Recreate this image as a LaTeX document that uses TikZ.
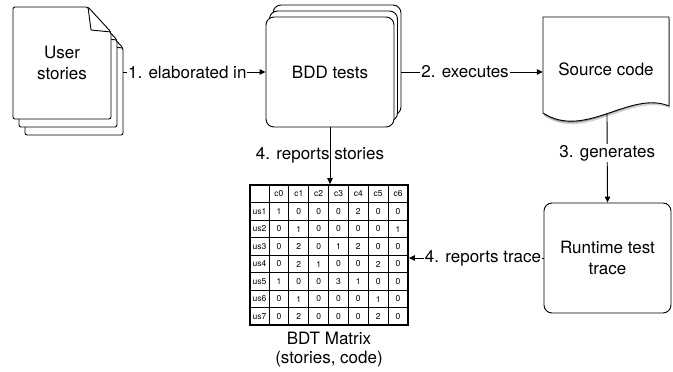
\documentclass[tikz,border=0pt]{standalone}
\usepackage{fontspec}
\setmainfont{TeX Gyre Heros}
\usetikzlibrary{arrows.meta}

\begin{document}
\begin{tikzpicture}[x=1pt,y=-1pt,
  lw/.style={line width=0.9pt},
  boxstyle/.style={draw, lw, fill=white, rounded corners=8pt,
    minimum width=128pt, minimum height=110pt, inner sep=0pt,
    align=center, font=\fontsize{17}{21}\selectfont},
  ghost/.style={inner sep=0pt, align=center, font=\fontsize{17}{21}\selectfont},
  conn/.style={lw, -{Triangle[length=6pt,width=5.5pt]}},
  lbl/.style={fill=white, inner sep=1pt, font=\fontsize{17}{20}\selectfont},
  cell/.style={inner sep=0pt, font=\fontsize{8.5}{10}\selectfont},
  pageshape/.style={draw, lw, fill=white, line join=round}
]
\useasboundingbox (0,0) rectangle (673,372);

% --- stacked user story pages with folded corner ---
\foreach \dx/\dy in {12/16, 6/8, 0/0} {
  \begin{scope}[shift={(\dx,\dy)}]
    \draw[pageshape, rounded corners=2pt] (13,7) -- (88,7) -- (111,32) -- (111,119) -- (13,119) -- cycle;
    \draw[lw, line join=round] (88,7) -- (91,30) -- (111,32);
  \end{scope}
}
\node[ghost, minimum width=98pt, minimum height=112pt] (us) at (62,63) {User\\stories};
\node[inner sep=0pt, minimum width=98pt, minimum height=112pt] (usback) at (74,79) {};

% --- stacked BDD test boxes ---
\node[boxstyle] (bdd3) at (337,60) {};
\node[boxstyle] (bdd2) at (333.5,66) {};
\node[boxstyle] (bdd) at (330,72) {BDD tests};

% --- source code document with wavy bottom and shadow ---
\fill[black!18] (544,20) -- (670,20) -- (670,108) .. controls (630,93) and (585,143) .. (544,116) -- cycle;
\fill[black!45] (543.5,18) -- (669.5,18) -- (669.5,106) .. controls (630,91) and (585,141.5) .. (543.5,114.5) -- cycle;
\draw[lw, fill=white, line join=round] (543,17) -- (669,17) -- (669,106) .. controls (630,90) and (585,140) .. (543,113) -- cycle;
\node[ghost, minimum width=126pt, minimum height=100pt] (src) at (606,69) {Source code};
\coordinate (srcbot) at (607,114);

% --- runtime trace ---
\node[boxstyle, minimum width=127pt] (rt) at (607.5,258) {Runtime test\\trace};

% --- BDT matrix ---
\node[draw, line width=1.8pt, minimum width=158pt, minimum height=140pt, inner sep=0pt] (mat) at (329,255) {};
\foreach \k in {0,...,6}
  \draw[line width=1pt] ({269+\k*19.857},185) -- ({269+\k*19.857},325);
\foreach \k in {1,...,7}
  \draw[line width=1pt] (250,{185+\k*17.5}) -- (408,{185+\k*17.5});
\foreach \c in {0,...,6}
  \node[cell] at ({278.93+\c*19.857},194) {c\c};
\foreach \row [count=\r] in {{1,0,0,0,2,0,0},{0,1,0,0,0,0,1},{0,2,0,1,2,0,0},{0,2,1,0,0,2,0},{1,0,0,3,1,0,0},{0,1,0,0,0,1,0},{0,2,0,0,0,2,0}} {
  \node[cell] at (259.5,{194+\r*17.5}) {us\r};
  \foreach \v [count=\c] in \row
    \node[cell] at ({278.93+(\c-1)*19.857},{194+\r*17.5}) {\v};
}
\node[ghost, anchor=north, font=\fontsize{17}{19}\selectfont] (cap) at ([yshift=-6pt]mat.south) {BDT Matrix\\(stories, code)};

% --- connectors ---
\draw[conn] (usback.east |- bdd) -- node[lbl, pos=0.45] {1. elaborated in} (bdd.west);
\draw[conn] (bdd3.east |- bdd) -- node[lbl, pos=0.45] {2. executes} (src.west |- bdd);
\draw[conn] (srcbot) -- node[lbl, pos=0.44] {3. generates} (rt.north);
\draw[conn] (bdd.south) -- node[lbl, fill=none, xshift=-10pt] {4. reports stories} (bdd.south |- mat.north);
\draw[conn] (rt.west) -- node[lbl, pos=0.45] {4. reports trace} (mat.east |- rt.west);
\end{tikzpicture}
\end{document}
